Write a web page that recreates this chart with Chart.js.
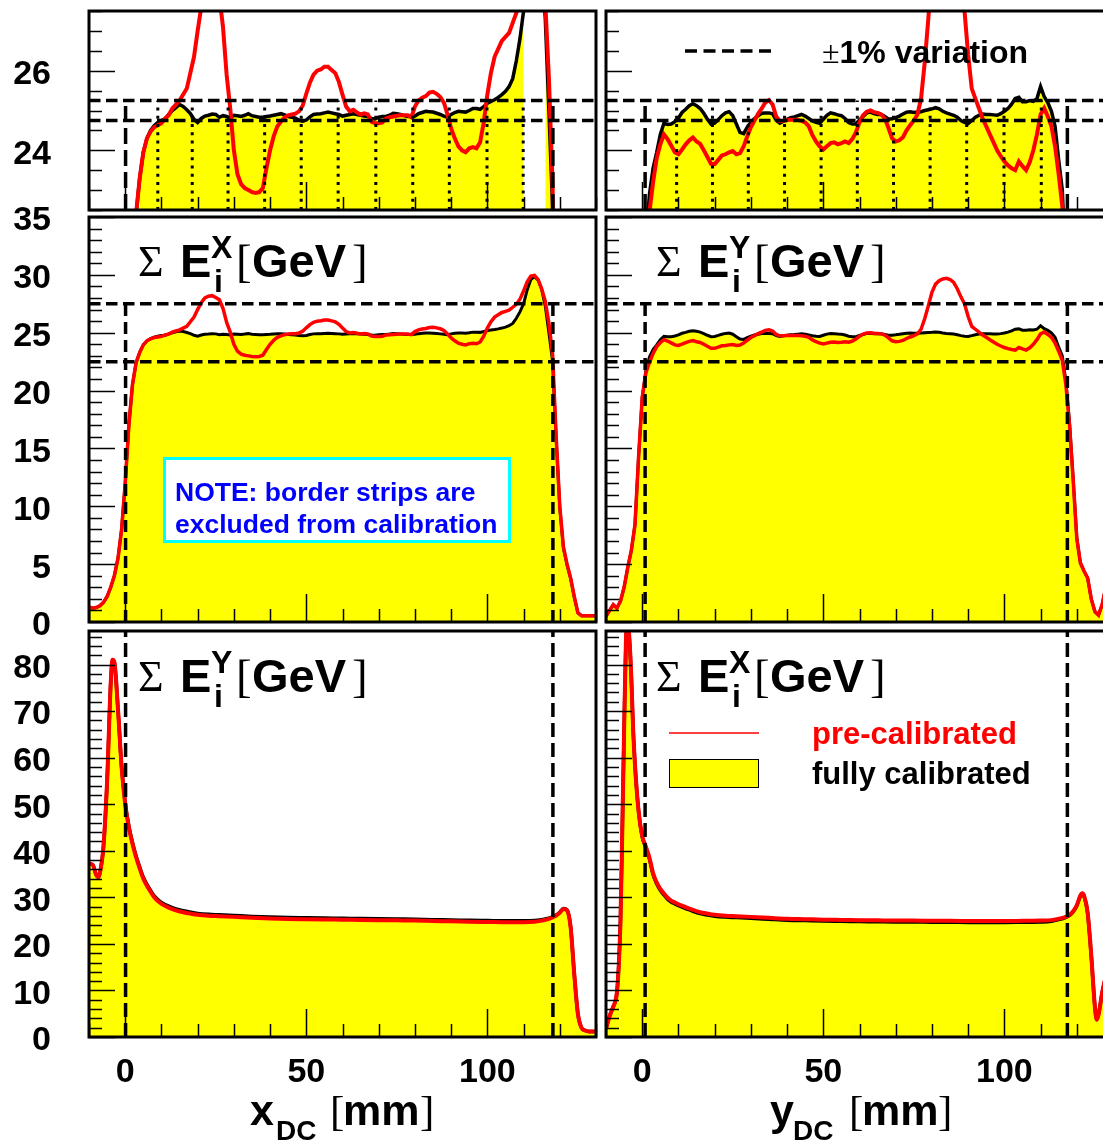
<!DOCTYPE html>
<html>
<head>
<meta charset="utf-8">
<title>Strip energy sums vs DC position</title>
<script src="https://cdn.jsdelivr.net/npm/chart.js@4.4.0/dist/chart.umd.min.js"></script>
<style>
  html, body { margin: 0; padding: 0; background: #fff; }
  body { width: 1103px; height: 1141px; overflow: hidden; position: relative; }
  canvas { position: absolute; }
  #overlay { position: absolute; left: 0; top: 0; pointer-events: none; }
  .b { font-family: "Liberation Sans", Arial, sans-serif; font-weight: bold; }
  .s { font-family: "Liberation Serif", "Times New Roman", serif; font-weight: normal; }
</style>
</head>
<body>
<canvas id="tl" width="600" height="230" style="left:0;top:0;width:600px;height:230px"></canvas>
<canvas id="tr" width="520" height="230" style="left:600px;top:0;width:520px;height:230px"></canvas>
<canvas id="ml" width="600" height="450" style="left:0;top:195px;width:600px;height:450px"></canvas>
<canvas id="mr" width="520" height="450" style="left:600px;top:195px;width:520px;height:450px"></canvas>
<canvas id="bl" width="600" height="541" style="left:0;top:600px;width:600px;height:541px"></canvas>
<canvas id="br" width="520" height="541" style="left:600px;top:600px;width:520px;height:541px"></canvas>

<svg id="overlay" width="1103" height="1141" xmlns="http://www.w3.org/2000/svg">
  <!-- +-1% legend, top right -->
  <line x1="685" y1="51" x2="772" y2="51" stroke="#000" stroke-width="3.5" stroke-dasharray="12 6.5"/>
  <text x="822" y="63" class="b" font-size="32"><tspan class="s" font-size="32">±</tspan>1% variation</text>

  <!-- note box -->
  <rect x="164.5" y="458.5" width="345" height="83" fill="#fff" stroke="#00ffff" stroke-width="3"/>
  <text x="175" y="501" class="b" font-size="26.5" fill="#0000ff">NOTE: border strips are</text>
  <text x="175" y="533" class="b" font-size="26.5" fill="#0000ff">excluded from calibration</text>

  <!-- legend, bottom right -->
  <line x1="669" y1="733" x2="759" y2="733" stroke="#ff0000" stroke-width="1.5"/>
  <rect x="669.5" y="759.5" width="89" height="28" fill="#ffff00" stroke="#000" stroke-width="1"/>
  <text x="812" y="744" class="b" font-size="31" fill="#ff0000">pre-calibrated</text>
  <text x="812" y="784" class="b" font-size="31" fill="#000">fully calibrated</text>

  <!-- axis titles -->
  <text><tspan class="b" x="250" y="1125" font-size="43">x</tspan><tspan class="b" x="276" y="1140" font-size="28">DC</tspan><tspan class="s" x="330" y="1125" font-size="43">[</tspan><tspan class="b" x="343" y="1125" font-size="43">mm</tspan><tspan class="s" x="420" y="1125" font-size="43">]</tspan></text>
  <text><tspan class="b" x="770" y="1125" font-size="43">y</tspan><tspan class="b" x="793" y="1140" font-size="28">DC</tspan><tspan class="s" x="849" y="1125" font-size="43">[</tspan><tspan class="b" x="862" y="1125" font-size="43">mm</tspan><tspan class="s" x="938" y="1125" font-size="43">]</tspan></text>
  <g id="sums"></g>
</svg>

<script>
// ---- data ----
// strip position [mm], 1 mm steps, central-region profiles
const xStrip = [-10,-9,-8,-7,-6,-5,-4,-3,-2,-1,
  0,1,2,3,4,5,6,7,8,9,10,11,12,13,14,15,16,17,18,19,
  20,21,22,23,24,25,26,27,28,29,30,31,32,33,34,35,36,37,38,39,
  40,41,42,43,44,45,46,47,48,49,50,51,52,53,54,55,56,57,58,59,
  60,61,62,63,64,65,66,67,68,69,70,71,72,73,74,75,76,77,78,79,
  80,81,82,83,84,85,86,87,88,89,90,91,92,93,94,95,96,97,98,99,
  100,101,102,103,104,105,106,107,108,109,110,111,112,113,114,115,116,117,118,119,
  120,121,122,123,124,125,126,127,128,129,130];

// sum E^X vs x_DC (left column, top + middle)
const sumXfull = [1.3,1.2,1.25,1.4,1.7,2.2,3.0,4.0,5.5,8.0,
  12.0,17.0,20.5,22.4,23.3,23.95,24.3,24.5,24.62,24.7,
  24.75,24.78,24.9,25.0,25.07,25.15,25.1,25.02,24.92,24.78,
  24.7,24.8,24.86,24.88,24.91,24.9,24.83,24.87,24.85,24.8,
  24.88,24.87,24.85,24.88,24.92,24.87,24.85,24.83,24.83,24.85,
  24.86,24.88,24.9,24.92,24.89,24.85,24.83,24.81,24.76,24.73,
  24.76,24.84,24.9,24.91,24.92,24.94,24.96,24.94,24.92,24.9,
  24.86,24.88,24.9,24.92,24.9,24.88,24.86,24.85,24.8,24.79,
  24.83,24.85,24.85,24.88,24.93,24.92,24.9,24.87,24.85,24.85,
  24.86,24.92,24.95,24.98,24.97,24.96,24.93,24.9,24.86,24.83,
  24.9,24.95,24.98,24.97,24.96,25.0,25.05,25.05,25.03,25.1,
  25.18,25.23,25.27,25.33,25.4,25.48,25.6,25.8,26.25,26.8,
  27.5,28.7,29.6,29.85,29.55,28.75,27.3,25.0,22.6,15.9,
  9.9,6.4,4.95,3.75,2.15,0.78,0.55,0.55,0.55,0.55,0.55];
const sumXpre = [1.3,1.2,1.25,1.4,1.7,2.2,3.0,4.0,5.5,8.0,
  12.0,17.0,20.5,22.4,23.3,23.95,24.3,24.47,24.58,24.63,
  24.68,24.8,24.88,25.05,25.15,25.25,25.4,25.55,25.95,26.35,
  27.0,27.6,28.0,28.15,28.2,28.05,27.85,27.1,25.9,25.05,
  24.0,23.4,23.15,23.05,23.0,22.95,22.93,22.95,23.05,23.55,
  24.0,24.35,24.6,24.72,24.83,24.88,24.9,24.92,24.98,25.12,
  25.42,25.7,25.9,26.0,26.03,26.1,26.1,26.02,25.94,25.72,
  25.4,25.1,24.98,25.02,24.95,24.9,24.93,24.9,24.72,24.68,
  24.68,24.7,24.8,24.83,24.85,24.87,24.88,24.88,24.88,24.83,
  25.1,25.25,25.32,25.36,25.45,25.47,25.42,25.34,25.2,24.9,
  24.55,24.3,24.1,24.0,23.95,24.05,24.08,24.05,24.2,24.7,
  25.4,25.95,26.35,26.55,26.75,26.85,26.95,27.2,27.45,27.9,
  28.6,29.4,29.9,29.95,29.6,28.8,27.7,25.8,23.2,16.0,
  10.0,6.5,5.0,3.8,2.2,0.8,0.55,0.55,0.55,0.55,0.55];

// sum E^Y vs y_DC (right column, top + middle)
const sumYfull = [0.5,1.0,1.5,1.2,1.8,3.0,4.7,6.2,8.4,14.3,
  19.4,21.7,22.9,23.55,23.95,24.4,24.68,24.65,24.66,24.72,
  24.81,24.95,25.03,25.12,25.17,25.12,25.05,24.93,24.78,24.66,
  24.68,24.77,24.87,24.94,24.97,24.87,24.66,24.45,24.42,24.58,
  24.7,24.8,24.87,24.93,24.94,24.94,24.92,24.75,24.68,24.73,
  24.78,24.82,24.84,24.87,24.9,24.86,24.8,24.74,24.7,24.68,
  24.78,24.88,24.94,24.92,24.89,24.87,24.8,24.7,24.66,24.66,
  24.76,24.85,24.94,24.96,24.92,24.9,24.9,24.85,24.78,24.79,
  24.82,24.86,24.91,24.96,24.97,24.95,24.96,24.97,25.0,25.02,
  25.04,25.07,25.04,24.98,24.94,24.91,24.88,24.83,24.75,24.7,
  24.67,24.75,24.83,24.88,24.91,24.9,24.9,24.89,24.88,24.92,
  24.98,25.05,25.16,25.3,25.33,25.22,25.22,25.25,25.23,25.3,
  25.6,25.35,25.2,24.98,24.6,23.75,23.0,20.8,17.2,12.4,
  7.3,5.1,4.4,3.8,2.0,0.9,0.6,1.5,3.0,4.5,6.0];
const sumYpre = [0.5,1.0,1.5,1.2,1.8,3.0,4.7,6.2,8.4,14.3,
  19.4,21.5,22.45,23.2,23.8,24.15,24.4,24.28,24.12,23.95,
  23.9,24.02,24.15,24.25,24.32,24.22,24.16,24.0,23.83,23.66,
  23.65,23.76,23.87,23.9,23.95,23.98,23.9,23.93,24.1,24.35,
  24.58,24.75,24.92,25.05,25.2,25.26,25.15,24.85,24.73,24.74,
  24.76,24.77,24.77,24.76,24.74,24.7,24.6,24.38,24.22,24.1,
  24.02,24.1,24.18,24.2,24.15,24.18,24.22,24.18,24.28,24.45,
  24.7,24.88,24.97,25.0,24.96,24.94,24.9,24.8,24.56,24.3,
  24.22,24.25,24.33,24.5,24.63,24.75,24.9,25.3,26.2,27.3,
  28.5,29.2,29.5,29.65,29.7,29.6,29.35,28.8,28.1,27.5,
  26.4,25.55,25.3,25.05,24.8,24.6,24.4,24.2,24.0,23.85,
  23.72,23.62,23.55,23.5,23.72,23.6,23.5,23.7,24.0,24.4,
  24.9,25.06,24.85,24.6,24.1,23.4,22.6,20.5,17.0,12.3,
  7.2,5.1,4.4,3.8,2.0,0.9,0.6,1.5,3.0,4.5,6.0];

// sum E^Y vs x_DC (bottom left), full range
const xEdgeL = [-10,-9,-8,-7.5,-7,-6,-5,-4,-3.5,-3,-2,-1,0,1,2,3,4,5,6,7,
  8,9,10,12,14,16,18,20,23,26,30,35,40,45,50,55,60,65,70,75,
  80,85,90,95,100,105,110,113,115,117,118,119,120,121,122,123,124,125,126,127,128,130];
const edgeLfull = [37.2,37.0,34.8,34.3,35.2,41,55,76,81,80.5,70.5,58,50.2,45.3,41.8,38.9,36.5,34.3,32.8,31.5,
  30.3,29.5,28.9,28.1,27.5,27.1,26.8,26.55,26.35,26.25,26.1,25.9,25.75,25.65,25.6,25.55,25.5,25.45,25.4,25.35,
  25.3,25.2,25.15,25.05,25.0,24.95,24.95,25.0,25.2,25.5,25.8,26.2,26.8,27.6,27.3,23.6,13.5,5.0,2.0,1.4,1.2,1.2];
const edgeLpre = [37.2,37.0,34.8,34.3,35.2,41,55,76,81,80.5,70.5,58,50,45,41.5,38.6,36.2,34,32.5,31.2,
  30,29.2,28.6,27.8,27.2,26.8,26.5,26.25,26.05,25.95,25.8,25.6,25.45,25.35,25.3,25.25,25.2,25.15,25.1,25.05,
  25.0,24.9,24.85,24.75,24.7,24.65,24.65,24.75,25.0,25.35,25.7,26.1,26.7,27.5,27.2,23.5,13.5,5.0,2.0,1.4,1.2,1.2];

// sum E^X vs y_DC (bottom right), full range
const xEdgeR = [-10,-9,-8,-7.5,-7,-6.5,-6,-5.5,-5,-4.5,-4,-3.5,-3,-2.5,-2,-1,0,1,2,3,
  4,5,6,7,8,9,10,12,14,16,18,20,23,26,30,35,40,45,50,55,
  60,65,70,75,80,85,90,95,100,105,110,113,115,117,118,119,120,121,121.5,122,
  123,124,125,125.5,126,127,128,129,130];
const edgeRfull = [1.8,4.5,6.5,7.5,9.5,15,25,44.6,66,85,89,85,77,66,58.5,48.5,43.0,40.7,38.2,34.9,
  32.9,31.5,30.5,29.6,29.0,28.6,28.2,27.6,27.0,26.5,26.2,25.95,25.75,25.65,25.5,25.3,25.1,25.0,24.9,24.85,
  24.8,24.75,24.7,24.7,24.65,24.65,24.6,24.6,24.6,24.65,24.7,24.85,25.2,25.7,26.1,26.9,28.2,30.3,30.8,30.3,
  26.6,17.4,6.5,3.7,4.8,9.5,13,16,18.5];
const edgeRpre = [1.8,4.5,6.5,7.5,9.5,15,25,44.6,66,85,89,85,77,66,58.5,48.5,43.2,40.9,38.5,35.2,
  33.2,31.8,30.8,29.9,29.3,28.9,28.5,27.9,27.3,26.8,26.5,26.25,26.05,25.95,25.8,25.6,25.4,25.3,25.2,25.15,
  25.1,25.05,25.0,25.0,24.95,24.95,24.9,24.9,24.9,24.95,25.0,25.1,25.4,25.8,26.2,27.0,28.3,30.4,30.9,30.4,
  26.7,17.5,6.5,3.7,4.8,9.5,13,16,18.5];

// tick labels
const zoomTicks = [24, 26];
const midTicks = [0, 5, 10, 15, 20, 25, 30, 35];
const lowTicks = [0, 10, 20, 30, 40, 50, 60, 70, 80];
const xTicks = [0, 50, 100];

// reference lines
const bandZoom = [24.75, 25.25];          // +-1 %
const bandMid = [22.5, 27.5];
const cutsX = [0.1, 118.1];               // excluded border strips
const cutsY = [0.8, 117.4];
const stripsX = [9.0, 18.5, 28.4, 38.5, 48.6, 58.8, 69.2, 79.4, 89.5, 99.9, 109.9];
const stripsY = [9.5, 19.4, 29.3, 39.3, 49.4, 59.4, 69.4, 79.5, 89.6, 99.9, 110.2];

// ---- drawing ----
const FONT = '"Liberation Sans", Arial, sans-serif';
const YELLOW = '#ffff00';
const RED = '#ff0000';

const pts = (xs, ys) => xs.map((x, i) => ({ x, y: ys[i] }));
const seg = (x0, y0, x1, y1) => [{ x: x0, y: y0 }, { x: x1, y: y1 }];

function lineSet(data, color, width, dash, order, smooth) {
  return {
    data, borderColor: color, borderWidth: width, borderDash: dash || [],
    pointRadius: 0, fill: false, tension: 0, order,
    cubicInterpolationMode: smooth ? 'monotone' : 'default'
  };
}

// ROOT-like frame with ticks drawn on the inside
const frameTicks = {
  id: 'frameTicks',
  afterDatasetsDraw(chart, args, o) {
    const { ctx, chartArea: a } = chart;
    const xs = chart.scales.x, ys = chart.scales.y;
    ctx.save();
    ctx.strokeStyle = '#000';
    ctx.lineWidth = 1.5;
    ctx.beginPath();
    for (let k = 0; ; k++) {
      const v = ys.min + k * o.yStep;
      if (v > ys.max + 1e-6) break;
      const y = Math.round(ys.getPixelForValue(v)) + 0.5;
      const len = o.yMajor.some(m => Math.abs(m - v) < 1e-6) ? 26 : 13;
      ctx.moveTo(a.left, y); ctx.lineTo(a.left + len, y);
    }
    for (let k = 0; ; k++) {
      const v = xs.min + k * 10;
      if (v > xs.max + 1e-6) break;
      const x = Math.round(xs.getPixelForValue(v)) + 0.5;
      const len = xTicks.includes(v) ? 28 : 13;
      ctx.moveTo(x, a.bottom); ctx.lineTo(x, a.bottom - len);
    }
    ctx.stroke();
    ctx.lineWidth = 3;
    ctx.strokeRect(a.left, a.top, a.right - a.left, a.bottom - a.top);
    ctx.restore();
  }
};

function panel(id, p) {
  const fillVals = p.zoom ? p.full.map(v => (v < p.yMin || v > p.yMax) ? null : v) : p.full;
  const sets = [
    { data: pts(p.xs, fillVals), borderWidth: 0, borderColor: 'rgba(0,0,0,0)', backgroundColor: YELLOW,
      fill: p.zoom ? 'start' : 'origin', pointRadius: 0, tension: 0, order: 9,
      cubicInterpolationMode: p.smooth ? 'monotone' : 'default' },
    lineSet(pts(p.xs, p.full), '#000', p.lw, null, 8, p.smooth),
    lineSet(pts(p.xs, p.pre), RED, p.lw + 0.5, null, 7, p.smooth)
  ];
  p.band.forEach(y => sets.push(lineSet(seg(-10, y, 130, y), '#000', 3.5, [11.5, 5.5], 1)));
  p.cuts.forEach(x => sets.push(lineSet(seg(x, p.yMin, x, p.cutTop), '#000', 3.5, p.cutDash, 1)));
  p.strips.forEach(x => sets.push(lineSet(seg(x, p.yMin, x, p.stripTop), '#000', 3, [3, 5.3], 2)));

  const tickFont = { family: FONT, size: 34, weight: 'bold' };
  new Chart(document.getElementById(id), {
    type: 'line',
    data: { datasets: sets },
    plugins: [frameTicks],
    options: {
      responsive: false, animation: false, events: [],
      layout: { padding: p.pad },
      plugins: {
        legend: { display: false }, tooltip: { enabled: false },
        frameTicks: { yMajor: p.ticks, yStep: p.yStep }
      },
      scales: {
        x: {
          type: 'linear', min: -10, max: 130, display: p.xLabels,
          grid: { display: false, drawTicks: false }, border: { display: false },
          ticks: { font: tickFont, color: '#000', padding: 15, maxRotation: 0, autoSkip: false },
          afterBuildTicks: s => { s.ticks = xTicks.map(v => ({ value: v })); },
          afterFit: s => { s.height = p.xLabels ? 104 : 0; s.paddingLeft = 0; s.paddingRight = 0; }
        },
        y: {
          type: 'linear', min: p.yMin, max: p.yMax, display: p.yLabels,
          grid: { display: false, drawTicks: false }, border: { display: false },
          ticks: { font: tickFont, color: '#000', padding: 38, labelOffset: 4, autoSkip: false },
          afterBuildTicks: s => { s.ticks = p.ticks.map(v => ({ value: v })); },
          afterFit: s => { s.width = p.yLabels ? 89 : 0; s.paddingTop = 0; s.paddingBottom = 0; }
        }
      }
    }
  });
}

const LEFT = { left: 0, right: 4 }, RIGHT = { left: 6, right: 7 };
const rowTop = { top: 11, bottom: 20 }, rowMid = { top: 22, bottom: 23 }, rowLow = { top: 31, bottom: 0 };

const zoomCfg = { zoom: true, yMin: 22.5, yMax: 27.5, yStep: 0.5, ticks: zoomTicks, lw: 3.5,
  band: bandZoom, cutTop: 25.25, cutDash: [16, 6], stripTop: 25.25, xLabels: false };
const midCfg = { zoom: false, yMin: 0, yMax: 35, yStep: 1, ticks: midTicks, lw: 3,
  band: bandMid, cutTop: 27.5, cutDash: [12, 6], strips: [], xLabels: false };
const lowCfg = { zoom: false, smooth: true, yMin: 0, yMax: 87.2, yStep: 2, ticks: lowTicks, lw: 3.5,
  band: [], cutTop: 87.2, cutDash: [14, 6], strips: [], xLabels: true };

panel('tl', { ...zoomCfg, xs: xStrip, full: sumXfull, pre: sumXpre, cuts: cutsX, strips: stripsX,
  yLabels: true, pad: { ...LEFT, ...rowTop } });
panel('tr', { ...zoomCfg, xs: xStrip, full: sumYfull, pre: sumYpre, cuts: cutsY, strips: stripsY,
  yLabels: false, pad: { ...RIGHT, ...rowTop } });
panel('ml', { ...midCfg, xs: xStrip, full: sumXfull, pre: sumXpre, cuts: cutsX,
  yLabels: true, pad: { ...LEFT, ...rowMid } });
panel('mr', { ...midCfg, xs: xStrip, full: sumYfull, pre: sumYpre, cuts: cutsY,
  yLabels: false, pad: { ...RIGHT, ...rowMid } });
panel('bl', { ...lowCfg, xs: xEdgeL, full: edgeLfull, pre: edgeLpre, cuts: cutsX,
  yLabels: true, pad: { ...LEFT, ...rowLow } });
panel('br', { ...lowCfg, xs: xEdgeR, full: edgeRfull, pre: edgeRpre, cuts: cutsY,
  yLabels: false, pad: { ...RIGHT, ...rowLow } });

// "Sum E^a_i [GeV]" panel labels
const NS = 'http://www.w3.org/2000/svg';
function sumLabel(dx, base, sup) {
  const t = document.createElementNS(NS, 'text');
  const parts = [
    ['s', 138, base - 1, 44, '\u03A3'],
    ['b', 180, base, 47, 'E'],
    ['b', 211, base - 19, 32, sup],
    ['b', 214, base + 15, 32, 'i'],
    ['s', 236, base, 47, '['],
    ['b', 252, base, 47, 'GeV'],
    ['s', 352, base, 47, ']']
  ];
  parts.forEach(([cls, x, y, size, txt]) => {
    const sp = document.createElementNS(NS, 'tspan');
    sp.setAttribute('class', cls);
    sp.setAttribute('x', x + dx);
    sp.setAttribute('y', y);
    sp.setAttribute('font-size', size);
    sp.textContent = txt;
    t.appendChild(sp);
  });
  document.getElementById('sums').appendChild(t);
}
sumLabel(0, 277, 'X');
sumLabel(518, 277, 'Y');
sumLabel(0, 692, 'Y');
sumLabel(518, 692, 'X');
</script>
</body>
</html>
